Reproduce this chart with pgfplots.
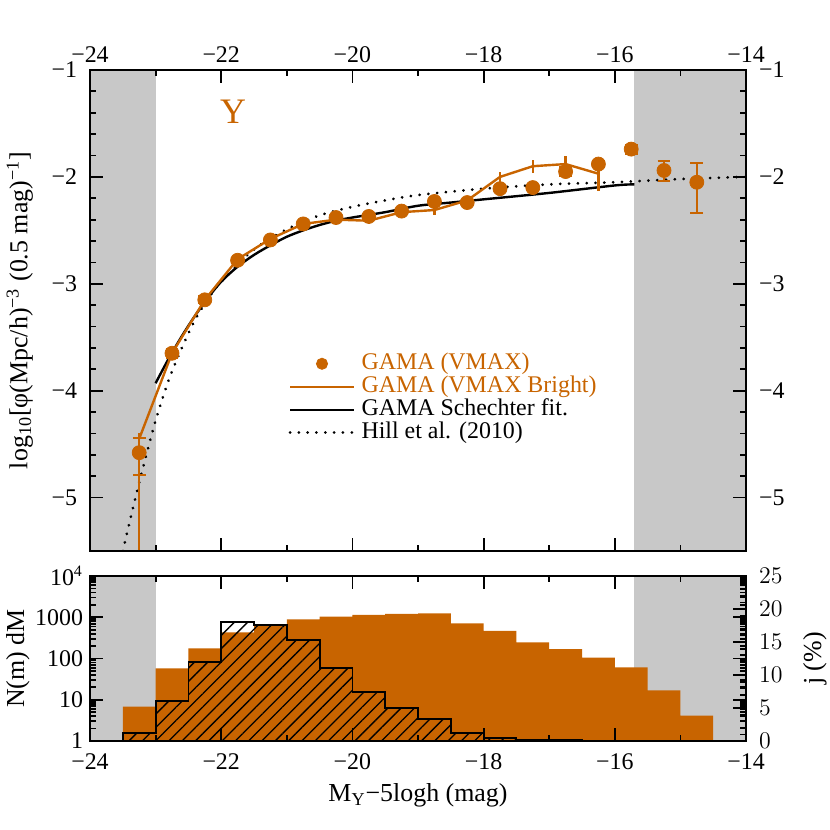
\documentclass[border=0pt]{standalone}
\usepackage{fontspec}
\setmainfont{Liberation Serif}
\usepackage{pgfplots}
\usepackage{pgfplotstable}
\pgfplotsset{compat=1.18}
\usetikzlibrary{patterns.meta}
\definecolor{gamaor}{RGB}{200,100,0}
\definecolor{band}{RGB}{200,200,200}

% GAMA VMAX points: x, y, error plus, error minus
\pgfplotstableread{
x y ep em
-23.25 -4.58 0.14 0.21
-22.75 -3.65 0.04 0.04
-22.25 -3.15 0.03 0.03
-21.75 -2.78 0.02 0.02
-21.25 -2.59 0.02 0.02
-20.75 -2.44 0.02 0.02
-20.25 -2.38 0.02 0.02
-19.75 -2.37 0.02 0.02
-19.25 -2.32 0.02 0.02
-18.75 -2.23 0.02 0.02
-18.25 -2.24 0.02 0.02
-17.75 -2.11 0.02 0.02
-17.25 -2.10 0.02 0.02
-16.75 -1.95 0.04 0.04
-16.25 -1.88 0.03 0.03
-15.75 -1.74 0.04 0.04
-15.25 -1.94 0.09 0.10
-14.75 -2.05 0.18 0.29
}\vmax

% GAMA VMAX Bright
\pgfplotstableread{
x y ep em
-23.25 -4.45 0.05 2.00
-22.75 -3.65 0.03 0.03
-22.25 -3.15 0.02 0.02
-21.75 -2.77 0.02 0.02
-21.25 -2.58 0.02 0.02
-20.75 -2.44 0.02 0.02
-20.25 -2.40 0.02 0.02
-19.75 -2.41 0.03 0.03
-19.25 -2.33 0.03 0.03
-18.75 -2.31 0.05 0.05
-18.25 -2.22 0.03 0.03
-17.75 -2.00 0.05 0.05
-17.25 -1.90 0.06 0.06
-16.75 -1.88 0.08 0.08
-16.25 -1.97 0.04 0.16
}\bright

% Schechter fit
\pgfplotstableread{
x y
-23.0 -3.93
-22.8 -3.70
-22.6 -3.49
-22.4 -3.30
-22.2 -3.13
-22.0 -2.98
-21.75 -2.84
-21.5 -2.73
-21.25 -2.64
-21.0 -2.56
-20.75 -2.50
-20.5 -2.45
-20.25 -2.41
-20.0 -2.38
-19.5 -2.33
-19.0 -2.27
-18.5 -2.24
-18.0 -2.21
-17.0 -2.15
-16.0 -2.08
-15.7 -2.07
}\schech

% Hill et al. (2010)
\pgfplotstableread{
x y
-23.5 -5.50
-23.35 -5.11
-23.2 -4.74
-23.0 -4.28
-22.8 -3.90
-22.6 -3.60
-22.4 -3.34
-22.2 -3.14
-22.0 -2.98
-21.5 -2.68
-21.0 -2.49
-20.5 -2.36
-20.0 -2.28
-19.5 -2.22
-19.0 -2.17
-18.0 -2.11
-17.0 -2.07
-16.0 -2.05
-15.0 -2.02
-14.0 -2.00
}\hill

% histogram, all galaxies (step outline, left edges)
\pgfplotstableread{
x y
-23.5 1
-23.5 6.8
-23.0 58
-22.5 177
-22.0 430
-21.5 680
-21.0 890
-20.5 1030
-20.0 1150
-19.5 1200
-19.0 1250
-18.5 710
-18.0 470
-17.5 247
-17.0 170
-16.5 105
-16.0 61
-15.5 17
-15.0 4.1
-14.5 4.1
-14.5 1
}\histall

% histogram, hatched
\pgfplotstableread{
x y
-23.5 1
-23.5 1.55
-23.0 9.3
-22.5 84
-22.0 780
-21.5 650
-21.0 280
-20.5 58
-20.0 15.7
-19.5 6.2
-19.0 3.4
-18.5 1.55
-18.0 1.2
-17.5 1.05
-16.5 1.05
-16.5 1
}\histb

\begin{document}
\begin{tikzpicture}
\useasboundingbox (0bp,0bp) rectangle (415bp,-415bp);
\pgfplotsset{
  base/.style={
    scale only axis, width=328bp,
    xmin=-24, xmax=-14,
    xtick={-24,-22,...,-14},
    xticklabels={−24,−22,−20,−18,−16,−14},
    minor x tick num=1,
    tick align=inside,
    major tick length=6.5bp, minor tick length=3.2bp,
    every tick/.style={black, line width=0.9bp},
    axis line style={line width=1.1bp},
    tick label style={font=\fontsize{12}{13}\selectfont},
    label style={font=\fontsize{13}{15}\selectfont},
    axis on top,
  },
}

% ---- upper panel
\begin{axis}[base, at={(45bp,-275.5bp)}, anchor=south west, height=240.5bp,
  ymin=-5.5, ymax=-1, ytick={-5,-4,-3,-2,-1}, yticklabels={−5,−4,−3,−2,−1},
  minor y tick num=4,
  xticklabel pos=upper,
  yticklabel style={xshift=-3bp},
  ylabel={log\textsubscript{10}[φ(Mpc/h)\textsuperscript{−3} (0.5 mag)\textsuperscript{−1}]},
  ylabel style={at={(axis description cs:-0.107,0.5)}, anchor=center},
  legend style={draw=none, fill=none, at={(0.302,0.414)}, anchor=north west,
    inner sep=0pt, row sep=0pt,
    nodes={inner sep=0pt, text height=8.5bp, text depth=3bp, anchor=west,
      font=\fontsize{12}{14}\selectfont}},
  legend cell align=left,
  legend image code/.code={\draw[mark repeat=2,mark phase=2,#1] plot coordinates {(0bp,0bp) (16bp,0bp) (32bp,0bp)}; \path (35bp,0bp);},
]
\addplot[fill=band, draw=none, forget plot] coordinates {(-24,-5.5) (-23,-5.5) (-23,-1) (-24,-1)} -- cycle;
\addplot[fill=band, draw=none, forget plot] coordinates {(-15.7,-5.5) (-14,-5.5) (-14,-1) (-15.7,-1)} -- cycle;
\addplot[black, line width=1.5bp, dash pattern=on 0.01bp off 4.4bp, line cap=round, smooth, forget plot] table {\hill};
\addplot[black, line width=1.2bp, smooth, forget plot] table {\schech};
\addplot[gamaor, line width=1.2bp, forget plot,
  error bars/.cd, y dir=both, y explicit, error mark=none,
  error bar style={line width=1.2bp}]
  table[x=x, y=y, y error plus=ep, y error minus=em] {\bright};
\addplot[gamaor, only marks, mark=*, mark size=3.5bp, forget plot,
  error bars/.cd, y dir=both, y explicit, error mark=-,
  error bar style={line width=1.2bp},
  error mark options={rotate=90, mark size=3.2bp, line width=1.2bp}]
  table[x=x, y=y, y error plus=ep, y error minus=em] {\vmax};
\node[text=gamaor, font=\fontsize{18}{18}\selectfont] at (axis cs:-21.82,-1.39) {Y};
\addlegendimage{only marks, mark=*, gamaor, mark size=2.8bp}
\addlegendentry{\textcolor{gamaor}{GAMA (VMAX)}}
\addlegendimage{gamaor, line width=1.2bp}
\addlegendentry{\textcolor{gamaor}{GAMA (VMAX Bright)}}
\addlegendimage{black, line width=1.2bp}
\addlegendentry{GAMA Schechter fit.}
\addlegendimage{black, line width=1.5bp, dash pattern=on 0.01bp off 4.4bp, line cap=round}
\addlegendentry{Hill et al. (2010)}
\end{axis}
\begin{axis}[base, at={(45bp,-275.5bp)}, anchor=south west, height=240.5bp,
  ymin=-5.5, ymax=-1, ytick={-5,-4,-3,-2,-1}, yticklabels={−5,−4,−3,−2,−1},
  yticklabel style={xshift=3bp},
  minor y tick num=4, axis y line*=right, hide x axis]
\end{axis}

% ---- lower panel
\begin{axis}[base, at={(45bp,-370.5bp)}, anchor=south west, height=82.5bp,
  ymode=log, ymin=1, ymax=10000, ytick={1,10,100,1000,10000},
  yticklabels={1,10,100,1000,10\textsuperscript{4}},
  xticklabel style={yshift=-3bp},
  xlabel={M\textsubscript{Y}−5logh (mag)}, ylabel={N(m) dM},
  ylabel style={at={(axis description cs:-0.11,0.5)}, anchor=center}]
\addplot[fill=band, draw=none] coordinates {(-24,1) (-23,1) (-23,10000) (-24,10000)} -- cycle;
\addplot[fill=band, draw=none] coordinates {(-15.7,1) (-14,1) (-14,10000) (-15.7,10000)} -- cycle;
\addplot[const plot, fill=gamaor, draw=none] table {\histall} -- cycle;
\addplot[const plot, draw=black, line width=0.9bp,
  pattern={Lines[angle=45, distance=4.7bp, line width=0.65bp]}] table {\histb} -- cycle;
\end{axis}
\begin{axis}[base, at={(45bp,-370.5bp)}, anchor=south west, height=82.5bp,
  ymin=0, ymax=25, ytick={0,5,...,25}, minor y tick num=4,
  yticklabel style={xshift=3bp},
  axis y line*=right, hide x axis, ylabel={j (\%)},
  ylabel style={at={(axis description cs:1.105,0.5)}, anchor=center}]
\end{axis}
\end{tikzpicture}
\end{document}
